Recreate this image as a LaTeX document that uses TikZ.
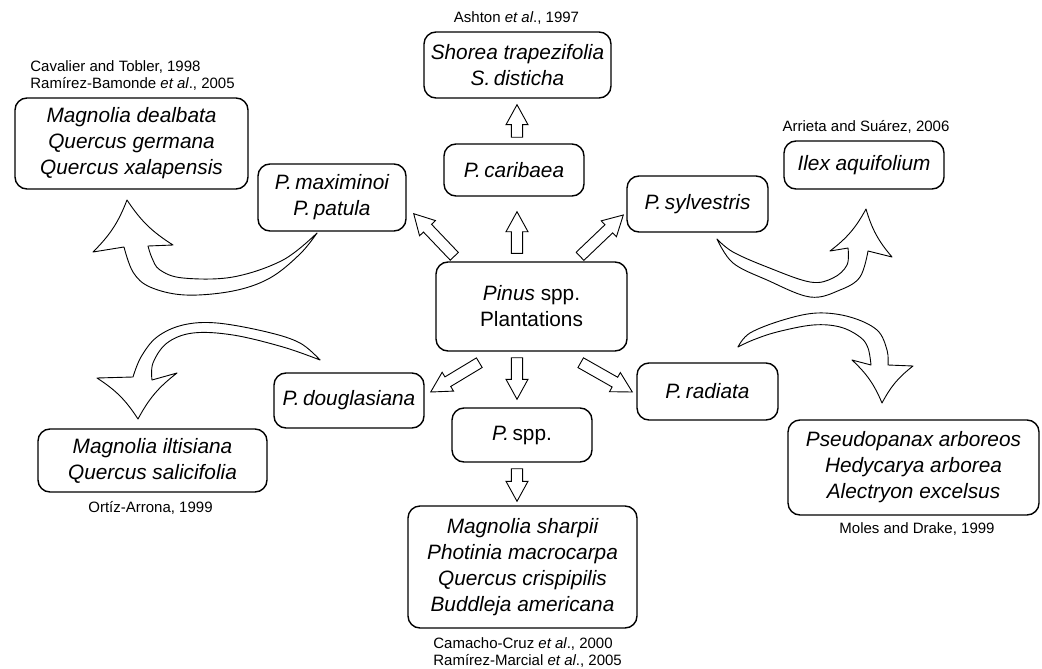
\documentclass[tikz,border=0pt]{standalone}
\usepackage{fontspec}
\setmainfont{Liberation Sans}
\usetikzlibrary{calc}

\tikzset{
  taxon/.style={draw, line width=0.7pt, rounded corners=6pt, align=center,
    inner sep=0pt, font=\fontsize{10.4}{13}\selectfont\itshape},
  boxsize/.style 2 args={minimum width=#1, minimum height=#2},
  cite/.style={inner sep=0pt, font=\fontsize{7.5}{8.5}\selectfont},
  blk/.style={draw, line width=0.45pt, fill=white},
  bendarrow/.style={draw, line width=0.45pt, fill=white, line join=round},
}

% straight block arrow from tail (#1) to tip (#2)
\newcommand{\blkarrow}[2]{%
  \draw[blk] ($(#1)!2.8pt!90:(#2)$)
    -- ($(#2)!10pt!(#1)!2.8pt!90:(#2)$)
    -- ($(#2)!10pt!(#1)!5.5pt!90:(#2)$)
    -- (#2)
    -- ($(#2)!10pt!(#1)!5.5pt!-90:(#2)$)
    -- ($(#2)!10pt!(#1)!2.8pt!-90:(#2)$)
    -- ($(#1)!2.8pt!-90:(#2)$) -- cycle;}

\begin{document}
\begin{tikzpicture}[x=0.5pt, y=-0.5pt]
\useasboundingbox (0,0) rectangle (1042,668);

% species boxes
\node[taxon, boxsize={95.5pt}{44.5pt}, font=\fontsize{10.4}{13}\selectfont] (pinus) at (531.5,306.5)
  {\textit{Pinus} spp.\\Plantations};
\node[taxon, boxsize={70pt}{26pt}] (carib) at (514,170) {P.\,caribaea};
\node[taxon, boxsize={93.5pt}{33pt}] (shorea) at (517.5,65) {Shorea trapezifolia\\S.\,disticha};
\node[taxon, boxsize={74pt}{33.5pt}] (maxpat) at (332,197.5) {P.\,maximinoi\\P.\,patula};
\node[taxon, boxsize={116.5pt}{45.5pt}] (dealb) at (131.5,143.5)
  {Magnolia dealbata\\Quercus germana\\Quercus xalapensis};
\node[taxon, boxsize={70.5pt}{28pt}] (sylv) at (697.5,204) {P.\,sylvestris};
\node[taxon, boxsize={80pt}{24pt}] (ilex) at (864,165) {Ilex aquifolium};
\node[taxon, boxsize={75pt}{27.5pt}] (douglas) at (349,400.5) {P.\,douglasiana};
\node[taxon, boxsize={114.5pt}{31.5pt}] (iltis) at (152.5,460.5)
  {Magnolia iltisiana\\Quercus salicifolia};
\node[taxon, boxsize={70pt}{27pt}] (spp) at (522,435) {P.\,\textup{spp.}};
\node[taxon, boxsize={114.5pt}{61pt}] (sharpii) at (522.5,567)
  {Magnolia sharpii\\Photinia macrocarpa\\Quercus crispipilis\\Buddleja americana};
\node[taxon, boxsize={70.5pt}{28.5pt}] (radiata) at (707.5,391.5) {P.\,radiata};
\node[taxon, boxsize={125.5pt}{47.5pt}] (pseudo) at (913.5,467.5)
  {Pseudopanax arboreos\\Hedycarya arborea\\Alectryon excelsus};

% references
\node[cite, anchor=base] (ashton) at (516.5,23) {Ashton \textit{et al}., 1997};
\node[cite, anchor=north west, align=left] (cavalier) at (30,60)
  {Cavalier and Tobler, 1998\\Ramírez-Bamonde \textit{et al}., 2005};
\node[cite, anchor=base] (arrieta) at (866,132) {Arrieta and Suárez, 2006};
\node[cite, anchor=base] (ortiz) at (150.5,512) {Ortíz-Arrona, 1999};
\node[cite, anchor=north west, align=left] (camacho) at (433,637)
  {Camacho-Cruz \textit{et al}., 2000\\Ramírez-Marcial \textit{et al}., 2005};
\node[cite, anchor=base] (moles) at (917,533) {Moles and Drake, 1999};

% block arrows
\coordinate (carib-a) at ($(pinus.north)+(-14.5,-8)$);
\coordinate (carib-b) at ($(carib.south)+(3,15)$);
\coordinate (shorea-a) at ($(carib.north)+(3,-6)$);
\coordinate (shorea-b) at ($(shorea.south)+(-0.5,6)$);
\coordinate (maxpat-a) at ($(pinus.north west)+(19,-5)$);
\coordinate (maxpat-b) at ($(maxpat.south east)+(7,-18)$);
\coordinate (sylv-a) at ($(pinus.north)+(48.5,-5)$);
\coordinate (sylv-b) at ($(sylv.west)+(-3,11)$);
\coordinate (douglas-a) at ($(pinus.south west)+(44,11)$);
\coordinate (douglas-b) at ($(douglas.east)+(6,-8.5)$);
\coordinate (spp-a) at ($(pinus.south)+(-14.5,6)$);
\coordinate (spp-b) at ($(spp.north)+(-5,-8)$);
\coordinate (radiata-a) at ($(pinus.south east)+(-47,11)$);
\coordinate (radiata-b) at ($(radiata.west)+(-4,0.5)$);
\coordinate (sharpii-a) at ($(spp.south)+(-5,6)$);
\coordinate (sharpii-b) at ($(sharpii.north)+(-5.5,-4)$);

\blkarrow{carib-a}{carib-b}
\blkarrow{shorea-a}{shorea-b}
\blkarrow{maxpat-a}{maxpat-b}
\blkarrow{sylv-a}{sylv-b}
\blkarrow{douglas-a}{douglas-b}
\blkarrow{spp-a}{spp-b}
\blkarrow{radiata-a}{radiata-b}
\blkarrow{sharpii-a}{sharpii-b}

% curved arrows
\coordinate (maxpat-tail) at ($(maxpat.south)+(-15,2)$);
\coordinate (douglas-tail) at ($(douglas.north)+(-29,-13)$);
\coordinate (sylv-tail) at ($(sylv.south)+(19.5,7)$);
\coordinate (radiata-tail) at ($(radiata.north)+(30.5,-16)$);

\draw[bendarrow] (maxpat-tail)
  -- plot[smooth, tension=0.6] coordinates {(317,233) (300,254) (270,278) (233,291) (185,295) (150,287) (133,272) (124,247)}
  -- (93,252) to[bend right=12] (127,200) to[bend right=12] (173,245) -- (148,246)
  -- plot[smooth, tension=0.6] coordinates {(148,246) (152,258) (160,270) (183,278) (233,277) (283,260) (317,233)}
  -- cycle;

\draw[bendarrow] (douglas-tail)
  -- plot[smooth, tension=0.6] coordinates {(320,360) (300,343) (267,332) (217,323) (183,325) (157,337) (141,357) (133,377)}
  -- (97,378) to[bend left=12] (138,419) to[bend left=12] (177,373) -- (152,380)
  -- plot[smooth, tension=0.6] coordinates {(152,380) (153,363) (167,343) (193,333) (233,335) (283,347) (320,360)}
  -- cycle;

\draw[bendarrow] (sylv-tail)
  -- plot[smooth, tension=0.6] coordinates {(717,239) (733,263) (767,280) (810,297) (840,290) (860,277) (868,251)}
  -- (892,257) to[bend left=12] (866,209) to[bend left=12] (830,251) -- (848,248)
  -- plot[smooth, tension=0.6] coordinates {(848,248) (847,265) (833,278) (810,282) (767,267) (733,252) (717,239)}
  -- cycle;

\draw[bendarrow] (radiata-tail)
  -- plot[smooth, tension=0.6] coordinates {(738,347) (750,333) (783,320) (817,313) (850,317) (877,330) (887,350) (888,365)}
  -- (913,366) to[bend right=12] (882,403) to[bend right=12] (852,360) -- (871,365)
  -- plot[smooth, tension=0.6] coordinates {(871,365) (868,348) (860,337) (840,327) (813,325) (777,332) (753,340) (738,347)}
  -- cycle;

\end{tikzpicture}
\end{document}
